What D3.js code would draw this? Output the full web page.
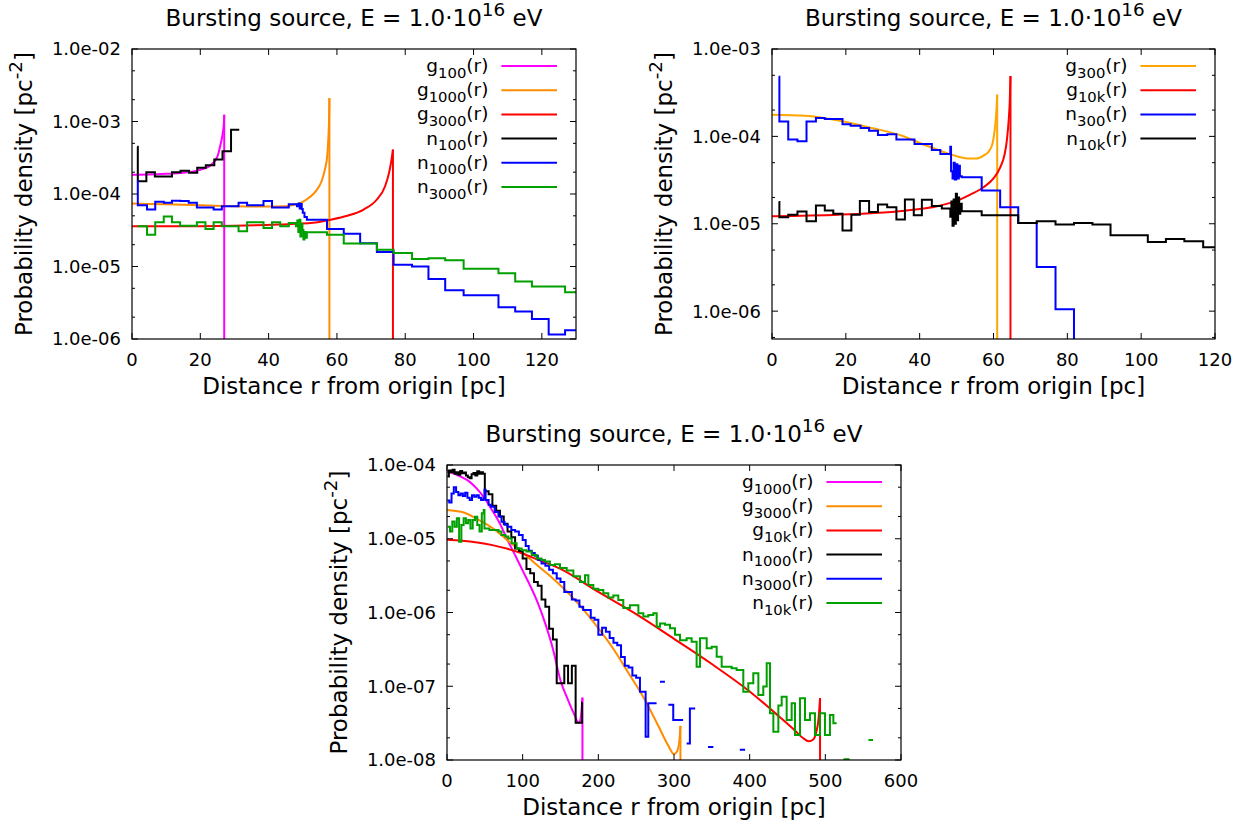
<!DOCTYPE html>
<html><head><meta charset="utf-8">
<script src="https://cdn.jsdelivr.net/npm/d3@7"></script>
<style>
body{margin:0;background:#fff}
text{font-family:"DejaVu Sans",sans-serif;fill:#000}
</style>
</head><body>
<script>
// ---------------- Panel 1 data ----------------
const p1_xTicks = [0,20,40,60,80,100,120];
const p1_yTicks = [1e-2,1e-3,1e-4,1e-5,1e-6];
const p1_yTickLabels = ["1.0e-02","1.0e-03","1.0e-04","1.0e-05","1.0e-06"];
// smooth curves: [r, density]; final 0 = curve drops to zero
const p1_g100 = [[0,1.85e-4],[5,1.86e-4],[10,1.9e-4],[15,1.97e-4],[19,2.1e-4],[22.6,2.4e-4],[25,3.27e-4],[26,5.0e-4],[26.6,7.0e-4],[26.9,9.5e-4],[27.0,1.24e-3],[27.0,0]];
const p1_g1000 = [[0,7.4e-5],[10,7.2e-5],[20,7.0e-5],[30,6.8e-5],[40,6.7e-5],[45,6.8e-5],[48,7.2e-5],[50,7.8e-5],[52,9.0e-5],[54,1.12e-4],[55.5,1.5e-4],[56.5,2.2e-4],[57.2,3.5e-4],[57.5,6.0e-4],[57.7,1.1e-3],[57.8,2.1e-3],[57.8,0]];
const p1_g3000 = [[0,3.58e-5],[20,3.6e-5],[30,3.65e-5],[43,3.8e-5],[53,4.0e-5],[58,4.4e-5],[63,5.0e-5],[67.8,6.1e-5],[71.7,8.4e-5],[74.1,1.28e-4],[75.3,2.0e-4],[76.0,3.0e-4],[76.4,4.1e-4],[76.4,0]];
// histograms: [bin left edge, value]; null = no data from this edge on
const p1_n100 = [[1.5,4.5e-4],[1.7,1.5e-4],[4.2,2.0e-4],[6.7,1.75e-4],[11.7,2.0e-4],[14.2,2.1e-4],[16.7,1.97e-4],[19.1,2.3e-4],[21.6,2.5e-4],[24.1,3.0e-4],[26.5,3.9e-4],[29.0,7.7e-4],[31.4,null]];
const p1_n1000 = [[1.5,1.5e-4],[1.7,7.0e-5],[4.4,6.1e-5],[6.8,7.8e-5],[9.3,7.6e-5],[11.7,8.1e-5],[14.1,8.0e-5],[16.6,7.6e-5],[19.0,6.5e-5],[23.9,6.1e-5],[26.3,6.8e-5],[31.2,7.6e-5],[33.7,7.0e-5],[38.5,8.0e-5],[41.0,6.5e-5],[45.9,7.2e-5],[48.3,6.8e-5],[48.8,7.4e-5],[49.1,6.3e-5],[49.4,7.3e-5],[49.7,6.2e-5],[50.0,5.5e-5],[50.5,4.8e-5],[51.2,4.4e-5],[57.1,3.3e-5],[62.0,2.84e-5],[66.8,2.1e-5],[71.7,1.58e-5],[76.6,1.06e-5],[82.0,1.0e-5],[86.8,6.7e-6],[91.7,4.7e-6],[97.1,4.0e-6],[107.3,2.74e-6],[112.2,2.4e-6],[117.1,1.89e-6],[122,1.15e-6],[126.8,1.32e-6],[130,null]];
const p1_n3000 = [[1.6,3.6e-5],[4.4,2.75e-5],[6.8,4.07e-5],[9.3,4.9e-5],[11.7,4.07e-5],[14.1,3.66e-5],[19.0,4.07e-5],[21.5,3.3e-5],[23.9,4.07e-5],[26.3,3.6e-5],[31.2,3.06e-5],[33.7,4.07e-5],[38.5,3.4e-5],[41.0,4.07e-5],[43.4,3.6e-5],[45.9,3.97e-5],[48.0,3.6e-5],[48.4,4.3e-5],[48.7,3.0e-5],[49.0,4.4e-5],[49.3,2.6e-5],[49.6,3.9e-5],[49.9,3.2e-5],[50.2,2.35e-5],[50.5,3.0e-5],[50.8,2.5e-5],[51.2,2.96e-5],[57.1,2.75e-5],[62.0,2.07e-5],[66.8,2.07e-5],[71.7,1.7e-5],[76.6,1.53e-5],[82.0,1.27e-5],[86.8,1.3e-5],[91.7,1.22e-5],[97.1,9.3e-6],[107.3,8.1e-6],[112.2,6.2e-6],[117.1,5.3e-6],[126.8,4.4e-6],[130,null]];

// ---------------- Panel 2 data ----------------
const p2_xTicks = [0,20,40,60,80,100,120];
const p2_yTicks = [1e-3,1e-4,1e-5,1e-6];
const p2_yTickLabels = ["1.0e-03","1.0e-04","1.0e-05","1.0e-06"];
const p2_g300 = [[0,1.77e-4],[9,1.72e-4],[18,1.52e-4],[27,1.25e-4],[36,9.9e-5],[40,8.4e-5],[45,7.0e-5],[49,6.1e-5],[53,5.6e-5],[55.5,5.6e-5],[57.5,6.1e-5],[59,7.0e-5],[59.8,8.5e-5],[60.4,1.26e-4],[60.8,2.0e-4],[61.0,3.0e-4],[61.0,0]];
const p2_g10k = [[0,1.22e-5],[18,1.27e-5],[27,1.32e-5],[36,1.41e-5],[45,1.6e-5],[50,1.83e-5],[53.7,2.16e-5],[57.3,2.62e-5],[60,3.3e-5],[61.8,4.4e-5],[63.0,6.2e-5],[63.6,8.9e-5],[64.1,1.5e-4],[64.4,2.5e-4],[64.6,4.9e-4],[64.6,0]];
const p2_n300 = [[1.8,4.8e-4],[2.0,1.48e-4],[4.4,9.2e-5],[6.9,8.8e-5],[9.35,1.48e-4],[11.9,1.62e-4],[14.3,1.58e-4],[19.1,1.38e-4],[21.3,1.32e-4],[24.0,1.25e-4],[26.3,1.16e-4],[28.7,1.04e-4],[31.2,1.06e-4],[33.7,9.2e-5],[38.6,8.2e-5],[43.3,7.0e-5],[45.6,6.3e-5],[48.3,7.6e-5],[48.5,4.0e-5],[48.9,3.3e-5],[49.2,5.0e-5],[49.5,3.2e-5],[49.9,4.8e-5],[50.2,3.3e-5],[50.6,4.6e-5],[50.9,3.5e-5],[51.4,3.4e-5],[56.8,2.4e-5],[61.8,1.55e-5],[66.7,1.02e-5],[71.7,3.2e-6],[76.8,1.05e-6],[81.8,1e-9],[86.8,null]];
const p2_n10k = [[1.8,1.77e-5],[2.0,1.19e-5],[4.4,1.27e-5],[6.9,1.38e-5],[9.35,1.07e-5],[11.9,1.62e-5],[14.3,1.42e-5],[16.6,1.3e-5],[19.1,8.4e-6],[21.5,1.27e-5],[23.8,1.82e-5],[26.3,1.36e-5],[28.7,1.66e-5],[31.2,1.55e-5],[33.7,1.12e-5],[36.0,1.9e-5],[38.4,1.25e-5],[40.6,1.88e-5],[43.3,1.6e-5],[46.0,1.5e-5],[48.3,1.2e-5],[48.6,1.8e-5],[48.9,9.5e-6],[49.2,1.9e-5],[49.5,1.0e-5],[49.8,2.2e-5],[50.1,1.1e-5],[50.4,2.0e-5],[50.7,1.3e-5],[51.0,1.7e-5],[51.4,1.39e-5],[56.8,1.25e-5],[66.7,1.02e-5],[71.7,1.07e-5],[76.8,9.8e-6],[81.8,1.02e-5],[86.8,9.8e-6],[91.7,7.4e-6],[101.8,6.2e-6],[106.7,6.7e-6],[111.7,6.3e-6],[116.8,5.4e-6],[120,null]];

// ---------------- Panel 3 data ----------------
const p3_xTicks = [0,100,200,300,400,500,600];
const p3_yTicks = [1e-4,1e-5,1e-6,1e-7,1e-8];
const p3_yTickLabels = ["1.0e-04","1.0e-05","1.0e-06","1.0e-07","1.0e-08"];
const p3_g1000 = [[0,8.1e-5],[10,7.6e-5],[20,6.8e-5],[30,5.9e-5],[40,4.7e-5],[50,3.5e-5],[60,2.4e-5],[70,1.6e-5],[80,9.6e-6],[90,6.0e-6],[100,3.7e-6],[110,2.3e-6],[120,1.35e-6],[130,7.0e-7],[140,3.2e-7],[150,1.2e-7],[160,6.5e-8],[168,4.2e-8],[174,3.2e-8],[176.5,3.6e-8],[178,5.0e-8],[179,7.0e-8],[179,0]];
const p3_g3000 = [[0,2.46e-5],[20,2.3e-5],[40,1.85e-5],[60,1.4e-5],[80,9.5e-6],[100,6.5e-6],[120,4.3e-6],[140,2.9e-6],[160,1.85e-6],[180,1.1e-6],[200,6.1e-7],[220,3.2e-7],[240,1.5e-7],[260,7.0e-8],[280,2.8e-8],[292,1.6e-8],[300,1.2e-8],[304,1.3e-8],[307,1.8e-8],[308.5,2.9e-8],[308.5,0]];
const p3_g10k = [[0,9.7e-6],[20,9.4e-6],[40,8.9e-6],[60,8.2e-6],[80,7.3e-6],[100,6.3e-6],[120,5.2e-6],[150,3.9e-6],[200,1.9e-6],[250,9.5e-7],[300,4.4e-7],[350,2.0e-7],[400,8.5e-8],[440,3.8e-8],[460,2.5e-8],[470,2.0e-8],[478,1.8e-8],[484,1.9e-8],[488,2.4e-8],[491,3.6e-8],[493,6.9e-8],[493,0]];
const p3_n1000 = [[0.5,7.0e-5],[2.5,8.4e-5],[5,8.0e-5],[7.5,8.6e-5],[10,7.6e-5],[12.5,8.0e-5],[15,7.4e-5],[17.5,8.3e-5],[20,7.7e-5],[22.5,7.9e-5],[25,7.2e-5],[27.5,6.8e-5],[30,6.6e-5],[32.5,7.5e-5],[35,7.8e-5],[37.5,7.2e-5],[40,8.2e-5],[42.5,7.6e-5],[45,8.0e-5],[47.5,7.6e-5],[50,4.4e-5],[55,4.0e-5],[60,2.8e-5],[65,2.4e-5],[70,2.0e-5],[75,1.6e-5],[80,1.25e-5],[85,1.05e-5],[90,7.4e-6],[95,6.8e-6],[100,5.4e-6],[105,3.9e-6],[110,3.4e-6],[115,2.6e-6],[120,2.3e-6],[125,1.5e-6],[130,1.2e-6],[135,6.0e-7],[140,4.3e-7],[145,1.1e-7],[150,1.1e-7],[155,1.9e-7],[160,1.1e-7],[165,1.9e-7],[170,3.2e-8],[178.5,6.0e-8],[178.6,null]];
const p3_n3000 = [[0.5,3.3e-5],[3,3.1e-5],[6,4.1e-5],[9,5.0e-5],[12,4.3e-5],[15,3.9e-5],[18,4.1e-5],[21,3.8e-5],[24,4.2e-5],[27,3.6e-5],[30,3.35e-5],[33,3.9e-5],[36,3.7e-5],[39,3.9e-5],[42,3.6e-5],[45,3.35e-5],[48,3.5e-5],[49.5,4.6e-5],[51,3.35e-5],[55,2.9e-5],[58,2.72e-5],[63,2.3e-5],[68,2.0e-5],[72,1.7e-5],[76,1.55e-5],[80,1.45e-5],[85,1.31e-5],[90,1.25e-5],[95,1.12e-5],[100,9.6e-6],[104,8.0e-6],[108,6.9e-6],[112,6.4e-6],[116,5.9e-6],[120,5.2e-6],[125,4.6e-6],[130,4.3e-6],[135,3.8e-6],[140,3.4e-6],[145,2.9e-6],[150,2.6e-6],[155,1.9e-6],[160,1.9e-6],[165,1.5e-6],[170,1.45e-6],[175,1.2e-6],[180,1.08e-6],[185,1.08e-6],[190,8.5e-7],[195,8.0e-7],[200,5.0e-7],[205,6.2e-7],[210,5.5e-7],[215,4.5e-7],[220,3.9e-7],[225,3.6e-7],[230,2.5e-7],[235,1.9e-7],[240,1.8e-7],[245,1.4e-7],[250,1.3e-7],[255,8.4e-8],[262.5,2.06e-8],[266,5.9e-8],[277,null],[281.5,1.15e-7],[288,null],[292.5,5.6e-8],[299,3.5e-8],[312,null],[316.7,1.68e-8],[321,5.0e-8],[328,null],[345,1.5e-8],[352,null],[387,1.38e-8],[394,null]];
const p3_n10k = [[1,1.46e-5],[4,1.25e-5],[7,1.71e-5],[10,1.46e-5],[13,1.89e-5],[16,9.1e-6],[19,1.54e-5],[22,1.89e-5],[25,1.62e-5],[28,1.8e-5],[31,1.38e-5],[34,1.8e-5],[37,1.99e-5],[40,1.54e-5],[43,1.25e-5],[46,2.21e-5],[48.5,2.45e-5],[49.5,1.38e-5],[56,1.31e-5],[63,1.31e-5],[68,1.25e-5],[72,1.12e-5],[77,1.07e-5],[81,1.01e-5],[85.5,8.7e-6],[92,7.4e-6],[98.7,7.0e-6],[105,6.7e-6],[112,6.0e-6],[118.5,5.4e-6],[125,5.15e-6],[129.5,4.9e-6],[136,4.4e-6],[142.7,4.5e-6],[149.3,4.0e-6],[158.2,3.7e-6],[167,3.1e-6],[175.8,2.6e-6],[182.4,3.2e-6],[186.8,2.36e-6],[193.4,2.1e-6],[200,2.02e-6],[206.6,1.82e-6],[213.2,1.6e-6],[219.8,1.7e-6],[226.4,1.48e-6],[233,1.15e-6],[241.8,1.25e-6],[252.9,9.75e-7],[259.5,8.8e-7],[266.1,9.25e-7],[272.7,9.75e-7],[277.1,6.4e-7],[281.5,7.1e-7],[288.1,6.8e-7],[294.7,6.1e-7],[301.3,5.0e-7],[307.9,4.2e-7],[316.7,4.46e-7],[323.3,4.0e-7],[329.9,1.84e-7],[334.4,4.46e-7],[343.2,3.27e-7],[349.8,3.44e-7],[356.4,2.52e-7],[363,1.84e-7],[369.6,1.84e-7],[376.2,1.75e-7],[382.8,1.66e-7],[391.6,8.45e-8],[398.2,1.1e-7],[404.8,1.5e-7],[411.5,7.6e-8],[418,9.9e-8],[422.5,2.05e-7],[426.9,4.3e-8],[431.3,2.42e-8],[437.9,5.5e-8],[442.3,7.2e-8],[448.9,3.48e-8],[455.5,5.9e-8],[459.9,2.18e-8],[466.5,6.85e-8],[473.1,3.48e-8],[479.7,4.3e-8],[486.3,2.18e-8],[492.9,4.3e-8],[499.5,2.18e-8],[506.1,4.07e-8],[510.6,3.14e-8],[515,null],[524,1.02e-8],[532,null],[557,1.86e-8],[563,null]];

const titleMain = "Bursting source, E = 1.0\u00B710";
const titleSup = "16";
const titleEnd = " eV";
const xLabelText = "Distance r from origin [pc]";
const yLabelMain = "Probability density [pc";
const yLabelSup = "-2";
const yLabelEnd = "]";

const C = {mag:"#ff00ff", org:"#ff8c00", org2:"#ffa500", red:"#ff0000", blk:"#000000", blu:"#0000ff", grn:"#00a000"};

const panels = [
  {box:{l:132,t:49,r:576,b:339}, xDomain:[0,130], xTicks:p1_xTicks, yDomain:[1e-6,1e-2], yTicks:p1_yTicks, yTickLabels:p1_yTickLabels,
   series:[
     {type:"curve",data:p1_g100,color:C.mag,n:"g",s:"100"},
     {type:"curve",data:p1_g1000,color:C.org,n:"g",s:"1000"},
     {type:"curve",data:p1_g3000,color:C.red,n:"g",s:"3000"},
     {type:"hist",data:p1_n100,color:C.blk,n:"n",s:"100"},
     {type:"hist",data:p1_n1000,color:C.blu,n:"n",s:"1000"},
     {type:"hist",data:p1_n3000,color:C.grn,n:"n",s:"3000"}]},
  {box:{l:772,t:49,r:1215,b:339}, xDomain:[0,120], xTicks:p2_xTicks, yDomain:[4.8e-7,1e-3], yTicks:p2_yTicks, yTickLabels:p2_yTickLabels,
   series:[
     {type:"curve",data:p2_g300,color:C.org2,n:"g",s:"300"},
     {type:"curve",data:p2_g10k,color:C.red,n:"g",s:"10k"},
     {type:"hist",data:p2_n300,color:C.blu,n:"n",s:"300"},
     {type:"hist",data:p2_n10k,color:C.blk,n:"n",s:"10k"}]},
  {box:{l:447,t:465,r:901,b:760}, xDomain:[0,600], xTicks:p3_xTicks, yDomain:[1e-8,1e-4], yTicks:p3_yTicks, yTickLabels:p3_yTickLabels,
   series:[
     {type:"curve",data:p3_g1000,color:C.mag,n:"g",s:"1000"},
     {type:"curve",data:p3_g3000,color:C.org,n:"g",s:"3000"},
     {type:"curve",data:p3_g10k,color:C.red,n:"g",s:"10k"},
     {type:"hist",data:p3_n1000,color:C.blk,n:"n",s:"1000"},
     {type:"hist",data:p3_n3000,color:C.blu,n:"n",s:"3000"},
     {type:"hist",data:p3_n10k,color:C.grn,n:"n",s:"10k"}]}
];

const svg = d3.select("body").append("svg").attr("width",1248).attr("height",824);
svg.append("rect").attr("width",1248).attr("height",824).attr("fill","#fff");

const FT = 18, FL = 23, FK = 18.5, LW = 2;

function histPath(bins, x, y) {
  let d = "", prev = false;
  for (let i = 0; i < bins.length - 1; i++) {
    const r0 = bins[i][0], v = bins[i][1], r1 = bins[i+1][0];
    if (v == null || v <= 0) { prev = false; continue; }
    const X0 = x(r0), X1 = x(r1), Y = y(v);
    d += (prev ? "L" : "M") + X0 + "," + Y + "L" + X1 + "," + Y;
    prev = true;
  }
  return d;
}

panels.forEach((P, idx) => {
  const {l,t,r,b} = P.box;
  const x = d3.scaleLinear().domain(P.xDomain).range([l,r]);
  const y = d3.scaleLog().domain(P.yDomain).range([b,t]);
  const g = svg.append("g");
  const cid = "clip" + idx;
  svg.append("clipPath").attr("id",cid).append("rect").attr("x",l).attr("y",t).attr("width",r-l).attr("height",b-t);
  const dg = g.append("g").attr("clip-path","url(#"+cid+")");

  P.series.forEach(s => {
    if (s.type === "curve") {
      const pts = s.data.filter(d => d[1] > 0);
      const line = d3.line().x(d => x(d[0])).y(d => y(d[1])).curve(d3.curveMonotoneX);
      dg.append("path").attr("d", line(pts)).attr("fill","none").attr("stroke",s.color).attr("stroke-width",LW).attr("stroke-linejoin","round");
      const last = s.data[s.data.length-1];
      if (last[1] === 0) {
        const top = pts[pts.length-1];
        dg.append("line").attr("x1",x(last[0])).attr("x2",x(last[0])).attr("y1",y(top[1])).attr("y2",b+10)
          .attr("stroke",s.color).attr("stroke-width",LW);
      }
    } else {
      dg.append("path").attr("d", histPath(s.data, x, y)).attr("fill","none").attr("stroke",s.color).attr("stroke-width",LW).attr("stroke-linejoin","miter");
    }
  });

  // frame
  g.append("rect").attr("x",l).attr("y",t).attr("width",r-l).attr("height",b-t).attr("fill","none").attr("stroke","#000").attr("stroke-width",1.2);
  // x ticks
  P.xTicks.forEach(v => {
    const X = x(v);
    g.append("line").attr("x1",X).attr("x2",X).attr("y1",b).attr("y2",b-6).attr("stroke","#000").attr("stroke-width",1);
    g.append("line").attr("x1",X).attr("x2",X).attr("y1",t).attr("y2",t+6).attr("stroke","#000").attr("stroke-width",1);
    g.append("text").attr("x",X).attr("y",b+27).attr("text-anchor","middle").attr("font-size",FT).text(String(v));
  });
  // y major ticks
  P.yTicks.forEach((v,i) => {
    const Y = y(v);
    g.append("line").attr("x1",l).attr("x2",l+6).attr("y1",Y).attr("y2",Y).attr("stroke","#000").attr("stroke-width",1);
    g.append("line").attr("x1",r).attr("x2",r-6).attr("y1",Y).attr("y2",Y).attr("stroke","#000").attr("stroke-width",1);
    g.append("text").attr("x",l-11).attr("y",Y).attr("dy","0.36em").attr("text-anchor","end").attr("font-size",FT).text(P.yTickLabels[i]);
  });
  // y minor ticks at 2 and 5 per decade
  const lo = Math.floor(Math.log10(P.yDomain[0])), hi = Math.ceil(Math.log10(P.yDomain[1]));
  for (let e = lo; e < hi; e++) {
    [2,5].forEach(m => {
      const v = m * Math.pow(10, e);
      if (v < P.yDomain[0] || v > P.yDomain[1]) return;
      const Y = y(v);
      g.append("line").attr("x1",l).attr("x2",l+3).attr("y1",Y).attr("y2",Y).attr("stroke","#000").attr("stroke-width",1);
      g.append("line").attr("x1",r).attr("x2",r-3).attr("y1",Y).attr("y2",Y).attr("stroke","#000").attr("stroke-width",1);
    });
  }
  // title
  const cx = (l + r) / 2;
  const tt = g.append("text").attr("x",cx).attr("y",t-23).attr("text-anchor","middle").attr("font-size",FL);
  tt.append("tspan").text(titleMain);
  tt.append("tspan").attr("font-size",FL*0.8).attr("dy",-FL*0.42).text(titleSup);
  tt.append("tspan").attr("dy",FL*0.42).text(titleEnd);
  // x label
  g.append("text").attr("x",cx).attr("y",b+55).attr("text-anchor","middle").attr("font-size",FL).text(xLabelText);
  // y label
  const yl = g.append("text").attr("transform","translate("+(l-100)+","+((t+b)/2)+") rotate(-90)").attr("text-anchor","middle").attr("font-size",FL);
  yl.append("tspan").text(yLabelMain);
  yl.append("tspan").attr("font-size",FL*0.8).attr("dy",-FL*0.42).text(yLabelSup);
  yl.append("tspan").attr("dy",FL*0.42).text(yLabelEnd);
  // legend
  const lineEnd = r - 19, lineStart = lineEnd - 55.6;
  P.series.forEach((s,i) => {
    const ry = t + 17 + i * 24.2;
    g.append("line").attr("x1",lineStart).attr("x2",lineEnd).attr("y1",ry).attr("y2",ry).attr("stroke",s.color).attr("stroke-width",LW);
    const tx = g.append("text").attr("x",lineStart-13).attr("y",ry+6).attr("text-anchor","end").attr("font-size",FK);
    tx.append("tspan").text(s.n);
    tx.append("tspan").attr("font-size",FK*0.8).attr("dy",FK*0.3).text(s.s);
    tx.append("tspan").attr("dy",-FK*0.3).text("(r)");
  });
});
</script>
</body></html>
